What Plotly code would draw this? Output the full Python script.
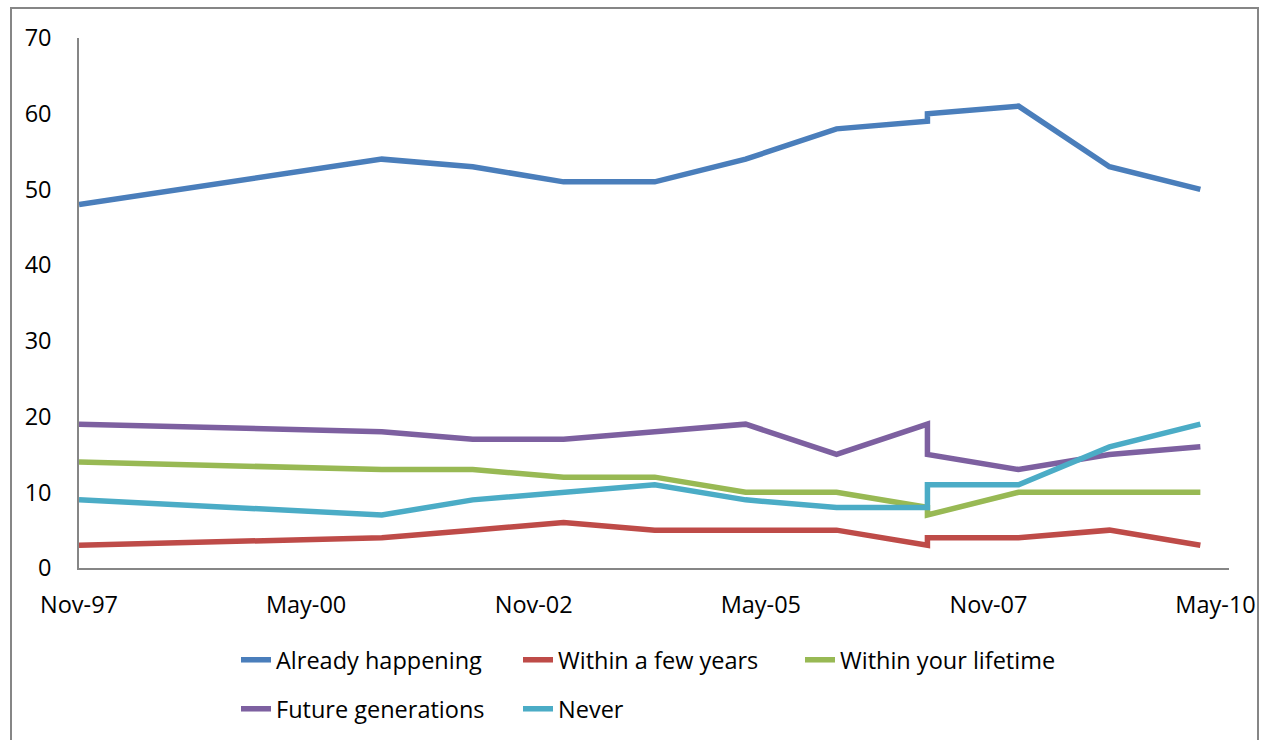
import plotly.graph_objects as go

# Survey dates (two readings in March 2007 share one date)
survey_dates = ["1997-11-01", "2001-03-01", "2002-03-01", "2003-03-01", "2004-03-01",
                "2005-03-01", "2006-03-01", "2007-03-01", "2007-03-01", "2008-03-01",
                "2009-03-01", "2010-03-01"]

already_happening = [48, 54, 53, 51, 51, 54, 58, 59, 60, 61, 53, 50]
within_few_years = [3, 4, 5, 6, 5, 5, 5, 3, 4, 4, 5, 3]
within_lifetime = [14, 13, 13, 12, 12, 10, 10, 8, 7, 10, 10, 10]
future_generations = [19, 18, 17, 17, 18, 19, 15, 19, 15, 13, 15, 16]
never = [9, 7, 9, 10, 11, 9, 8, 8, 11, 11, 16, 19]

tick_dates = ["1997-11-01", "2000-05-01", "2002-11-01", "2005-05-01", "2007-11-01", "2010-05-01"]
tick_labels = ["Nov-97", "May-00", "Nov-02", "May-05", "Nov-07", "May-10"]

series = [
    ("Already happening", already_happening, "#4A7EBB", "legend"),
    ("Within a few years", within_few_years, "#BE4B48", "legend"),
    ("Within your lifetime", within_lifetime, "#98B954", "legend"),
    ("Future generations", future_generations, "#7D60A0", "legend2"),
    ("Never", never, "#4BACC6", "legend2"),
]

FONT = "Open Sans"
FSIZE = 23.5
W, H = 1267, 740
ML, MR, MT, MB = 79, 38, 38, 172
PW, PH = W - ML - MR, H - MT - MB

fig = go.Figure()
for name, vals, color, leg in series:
    fig.add_trace(go.Scatter(
        x=survey_dates, y=vals, name=name, mode="lines",
        line=dict(color=color, width=5.5),
        legend=leg,
    ))

def px_x(px):
    return (px - ML) / PW

def px_y(py):
    return (H - MB - py) / PH

legend_common = dict(
    orientation="h", xanchor="left", yanchor="middle",
    xref="container", yref="container",
    entrywidth=237, entrywidthmode="pixels",
    font=dict(family=FONT, size=FSIZE, color="#000000"),
    bgcolor="rgba(0,0,0,0)", borderwidth=0, itemwidth=30,
)

fig.update_layout(
    width=W, height=H,
    margin=dict(l=ML, r=MR, t=MT, b=MB, pad=0, autoexpand=False),
    paper_bgcolor="#FFFFFF", plot_bgcolor="#FFFFFF",
    font=dict(family=FONT, size=FSIZE, color="#000000"),
    showlegend=True,
    legend=dict(x=236 / W, y=1 - 660 / H, **legend_common),
    legend2=dict(x=236 / W, y=1 - 709 / H, **legend_common),
    xaxis=dict(
        type="date",
        range=["1997-11-01", "2010-06-24"],
        tickvals=tick_dates, ticktext=tick_labels,
        showgrid=False, zeroline=False,
        showline=True, linecolor="#868686", linewidth=1.5,
        ticks="", ticklabelstandoff=15,
        tickfont=dict(family=FONT, size=FSIZE, color="#000000"),
    ),
    yaxis=dict(
        range=[0, 70], tickvals=list(range(0, 71, 10)),
        showgrid=False, zeroline=False,
        showline=True, linecolor="#868686", linewidth=1.5,
        ticks="", ticklabelstandoff=21,
        tickfont=dict(family=FONT, size=FSIZE, color="#000000"),
    ),
    shapes=[dict(
        type="rect", xref="paper", yref="paper",
        x0=px_x(11), x1=px_x(1258), y0=px_y(760), y1=px_y(8),
        line=dict(color="#868686", width=2), fillcolor="rgba(0,0,0,0)",
        layer="below",
    )],
)

fig.write_html("out.html")
